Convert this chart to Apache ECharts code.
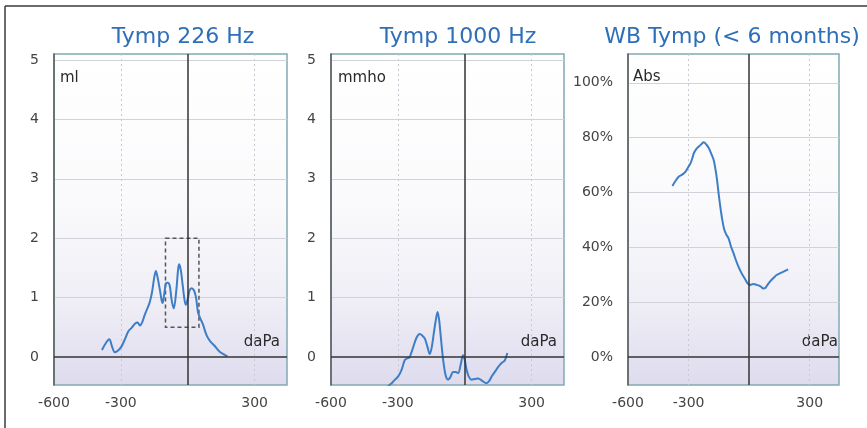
<!DOCTYPE html>
<html><head><meta charset="utf-8">
<script src="https://cdn.jsdelivr.net/npm/echarts@6/dist/echarts.min.js"></script>
<style>html,body{margin:0;padding:0;background:#fff}#c{width:867px;height:428px}</style>
</head><body><div id="c"></div>
<script>
// ---- data ----
var titles = ['Tymp 226 Hz', 'Tymp 1000 Hz', 'WB Tymp (< 6 months)'];
var unitLabels = ['ml', 'mmho', 'Abs'];
var xUnit = 'daPa';
var xTickLabels = [-600, -300, 300];
var xGridTicks = [-300, 300];
var yTickLabels12 = [0, 1, 2, 3, 4, 5];
var yGrid12 = [1, 2, 3, 4, 5];
var yTickLabels3 = [0, 20, 40, 60, 80, 100];
var yGrid3 = [20, 40, 60, 80, 100];

var t226X = [-385,-365,-352,-340,-327,-310,-297,-282,-267,-250,-237,-225,-215,-205,-193,-180,-170,-160,-150,-143,-136,-125,-118,-113,-106,-98,-90,-81,-72,-63,-52,-44,-39,-32,-25,-16,-9,0,8,17,28,37,46,55,68,84,100,120,143,160,178];
var t226Y = [0.12,0.25,0.30,0.18,0.08,0.12,0.18,0.30,0.43,0.50,0.56,0.58,0.53,0.58,0.71,0.83,0.93,1.10,1.35,1.45,1.35,1.13,0.97,0.91,1.05,1.24,1.25,1.20,0.95,0.82,1.10,1.45,1.56,1.48,1.28,1.00,0.88,0.98,1.12,1.16,1.12,1.00,0.75,0.66,0.55,0.37,0.27,0.19,0.09,0.05,0.01];
var box226X = [-100, 50];
var box226Y = [0.5, 2];

var t1000X = [-355,-343,-328,-313,-298,-283,-269,-258,-249,-240,-231,-216,-202,-190,-179,-168,-157,-148,-139,-130,-122,-115,-109,-100,-94,-85,-75,-65,-52,-40,-30,-18,-8,0,8,18,30,45,60,78,97,110,120,135,149,165,179,186,191];
var t1000Y = [-0.62,-0.49,-0.44,-0.38,-0.32,-0.21,-0.05,-0.02,-0.01,0.07,0.17,0.33,0.39,0.36,0.31,0.18,0.05,0.17,0.40,0.62,0.76,0.62,0.40,0.05,-0.13,-0.32,-0.38,-0.34,-0.25,-0.25,-0.27,-0.12,0.03,-0.05,-0.21,-0.33,-0.38,-0.37,-0.36,-0.40,-0.44,-0.40,-0.33,-0.25,-0.17,-0.10,-0.06,0.01,0.07];

var wbX = [-380,-365,-348,-330,-315,-302,-290,-280,-274,-262,-249,-237,-225,-212,-200,-188,-176,-167,-159,-151,-143,-133,-123,-112,-102,-90,-77,-65,-53,-37,-20,-7,5,20,38,58,70,79,90,103,120,136,160,193];
var wbY = [62.4,64.2,65.8,66.6,67.6,69.2,70.7,72.8,74.3,75.8,76.8,77.6,78.3,77.5,76.2,74.2,71.9,68.5,64.6,59.5,54.9,50.0,46.4,44.5,43.3,40.3,37.8,35.2,33.0,30.5,28.4,26.8,26.3,26.6,26.3,25.7,25.0,25.1,26.2,27.5,28.8,29.9,30.8,32.0];

function zip(a, b) { return a.map(function (v, i) { return [v, b[i]]; }); }

// ---- style ----
var FONT = '"DejaVu Sans", Verdana, sans-serif';
var LBL = '#444444';
var bg = { type: 'linear', x: 0, y: 0, x2: 0, y2: 1,
  colorStops: [{ offset: 0, color: '#ffffff' }, { offset: 0.45, color: '#fafafc' }, { offset: 0.75, color: '#efeef6' }, { offset: 1, color: '#dedbee' }] };
var grids = [
  { left: 54, top: 54, width: 233, height: 331 },
  { left: 331, top: 54, width: 233, height: 331 },
  { left: 628, top: 54, width: 211, height: 331 }
].map(function (g) {
  return Object.assign(g, { show: true, backgroundColor: bg, borderColor: '#80aab4', borderWidth: 1.5 });
});

function xAxis(i) {
  return {
    type: 'value', gridIndex: i, min: -600, max: 445,
    axisLine: { show: false }, axisTick: { show: false, customValues: xGridTicks },
    axisLabel: { customValues: xTickLabels, margin: 11, color: LBL, fontSize: 14, fontFamily: FONT },
    splitLine: { show: true, lineStyle: { type: [2, 3], color: '#c9c9d4', width: 1 } }
  };
}
function yAxis(i, min, max, labels, gridv, fmt) {
  return {
    type: 'value', gridIndex: i, min: min, max: max,
    axisLine: { show: true, onZero: false, lineStyle: { color: '#5a5a5a', width: 1.5 } },
    axisTick: { show: false, customValues: gridv },
    axisLabel: { customValues: labels, margin: 15, color: LBL, fontSize: 14, fontFamily: FONT, formatter: fmt },
    splitLine: { show: true, lineStyle: { color: '#d2d2da', width: 1 } }
  };
}
var zeroLines = {
  silent: true, symbol: 'none', label: { show: false },
  lineStyle: { color: '#333', width: 1.5, type: 'solid' },
  data: [{ xAxis: 0 }, { yAxis: 0 }]
};
function curve(i, data) {
  return {
    type: 'line', xAxisIndex: i, yAxisIndex: i, data: data, smooth: 0.35,
    symbol: 'none', clip: true,
    lineStyle: { color: '#3d7ec6', width: 2 },
    markLine: zeroLines, z: 3
  };
}

var centers = [183, 458, 732];
var graphic = [
  { type: 'line', shape: { x1: 5, y1: 6, x2: 867, y2: 6 }, style: { stroke: '#3a3a3a', lineWidth: 1.5 } },
  { type: 'line', shape: { x1: 5, y1: 6, x2: 5, y2: 428 }, style: { stroke: '#3a3a3a', lineWidth: 1.5 } }
];
titles.forEach(function (t, i) {
  graphic.push({ type: 'text', x: centers[i], y: 37, style: { text: t, fill: '#2f6fb8', font: '22px ' + FONT,
    align: 'center', verticalAlign: 'middle', textAlign: 'center', textVerticalAlign: 'middle' } });
});
var unitPos = [[60, 78], [338, 78], [633, 77]];
var daPaRight = [280, 557, 838];
unitLabels.forEach(function (u, i) {
  graphic.push({ type: 'text', x: unitPos[i][0], y: unitPos[i][1], style: { text: u, fill: '#2a2a2a', font: '15px ' + FONT,
    align: 'left', verticalAlign: 'middle', textAlign: 'left', textVerticalAlign: 'middle' } });
  graphic.push({ type: 'text', x: daPaRight[i], y: 342, style: { text: xUnit, fill: '#2a2a2a', font: '15px ' + FONT,
    align: 'right', verticalAlign: 'middle', textAlign: 'right', textVerticalAlign: 'middle' } });
});

var s1 = curve(0, zip(t226X, t226Y));
s1.markArea = {
  silent: true,
  itemStyle: { color: 'rgba(0,0,0,0)', borderColor: '#555', borderWidth: 1.5, borderType: [4, 3] },
  data: [[{ coord: [box226X[0], box226Y[1]] }, { coord: [box226X[1], box226Y[0]] }]]
};

var option = {
  animation: false,
  backgroundColor: '#ffffff',
  grid: grids,
  xAxis: [xAxis(0), xAxis(1), xAxis(2)],
  yAxis: [
    yAxis(0, -0.47, 5.1, yTickLabels12, yGrid12, '{value}'),
    yAxis(1, -0.47, 5.1, yTickLabels12, yGrid12, '{value}'),
    yAxis(2, -10.2, 110.5, yTickLabels3, yGrid3, '{value}%')
  ],
  series: [s1, curve(1, zip(t1000X, t1000Y)), curve(2, zip(wbX, wbY))],
  graphic: graphic
};
var chart = echarts.init(document.getElementById('c'), null, { renderer: 'canvas' });
chart.setOption(option);
</script></body></html>
